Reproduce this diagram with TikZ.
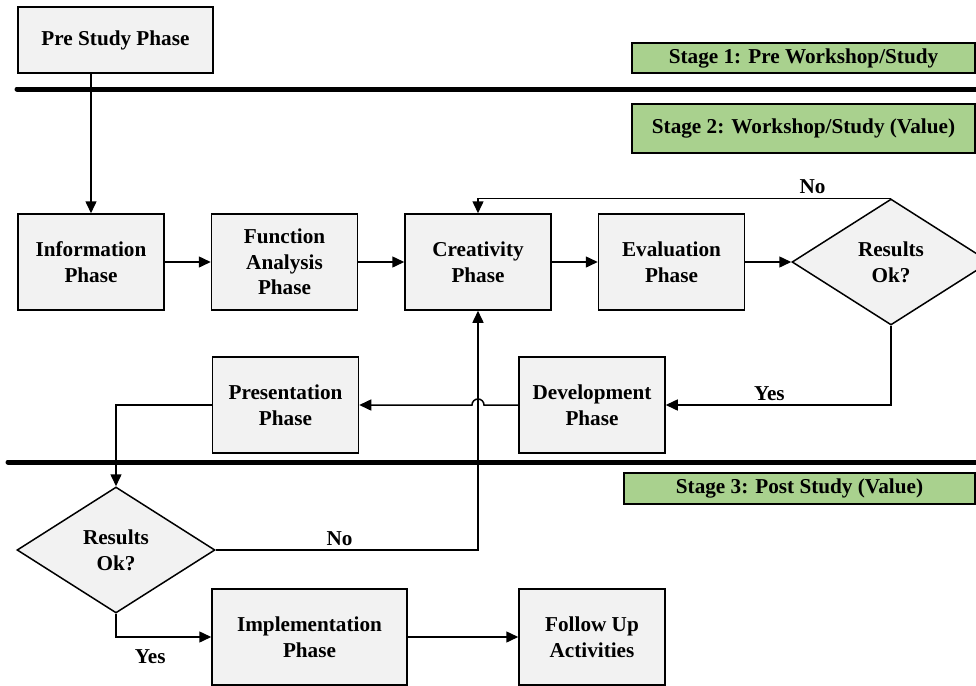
\documentclass[tikz,border=0pt]{standalone}
\usepackage{fontspec}
\setmainfont{Liberation Serif}
\usepackage{xcolor}
\usepackage{tikz}
\usetikzlibrary{positioning,arrows.meta,shapes.geometric,calc}
\definecolor{boxgray}{RGB}{242,242,242}
\definecolor{stagegreen}{RGB}{169,209,142}
\tikzset{
  box/.style={draw, line width=0.75pt, fill=boxgray, minimum height=48pt,
              minimum width=73pt, inner sep=1pt, align=center,
              font=\fontsize{10.6}{12.8}\selectfont\bfseries},
  widebox/.style={box, minimum width=97.5pt},
  stagebox/.style={box, fill=stagegreen, minimum width=171.5pt, minimum height=15pt},
  decision/.style={box, diamond, minimum width=99pt, minimum height=63pt, inner sep=0pt},
  arrow/.style={-{Triangle[length=6pt,width=5.5pt]}, line width=0.75pt},
  lbl/.style={font=\fontsize{10.6}{12.8}\selectfont\bfseries, inner sep=2pt},
  sep/.style={line width=2.5pt, line cap=round},
}
\begin{document}
\begin{tikzpicture}[x=0.5pt, y=-0.5pt, node distance=23pt]
  \useasboundingbox (0,0) rectangle (976,686);
  \clip (0,0) rectangle (976,686);

  \draw[sep] (17,89) -- (990,89);
  \draw[sep] (8,462) -- (990,462);

  \node[widebox, minimum height=33pt] (pre) at (115.5,40) {Pre Study Phase};
  \node[stagebox]                     (st1) at (803.5,58) {Stage 1: Pre Workshop/Study};
  \node[stagebox, minimum height=24.5pt] (st2) at (803.5,128.5) {Stage 2: Workshop/Study (Value)};
  \node[stagebox, minimum width=175.5pt, minimum height=15.5pt] (st3) at (799.5,488.5) {Stage 3: Post Study (Value)};

  \node[box]                    (info)   at (91,262) {Information\\Phase};
  \node[box, right=of info]     (func)   {Function\\Analysis\\Phase};
  \node[box, right=of func]     (creat)  {Creativity\\Phase};
  \node[box, right=of creat]    (eval)   {Evaluation\\Phase};
  \node[decision, right=23pt of eval] (ok1) {Results\\Ok?};

  \node[box]                    (pres)   at (285.5,405) {Presentation\\Phase};
  \node[box]                    (dev)    at (592,405) {Development\\Phase};
  \node[decision]               (ok2)    at (116,550) {Results\\Ok?};
  \node[widebox]                (impl)   at (309.5,637) {Implementation\\Phase};
  \node[box]                    (follow) at (592,637) {Follow Up\\Activities};

  \coordinate (hop) at (creat |- dev);

  \draw[arrow] (pre.south -| info.north) -- (info.north);
  \draw[arrow] (info) -- (func);
  \draw[arrow] (func) -- (creat);
  \draw[arrow] (creat) -- (eval);
  \draw[arrow] (eval) -- (ok1);
  \draw[arrow] (ok1.north) -- node[lbl, pos=0.19, above]{No} (ok1.north -| creat.north) -- (creat.north);
  \draw[arrow] (ok1.south) |- node[lbl, pos=0.77, above]{Yes} (dev.east);
  \draw[arrow] (dev.west) -- ([xshift=3pt]hop) arc[start angle=0, end angle=180, radius=3pt] -- (pres.east);
  \draw[arrow] (pres.west) -| (ok2.north);
  \draw[arrow] (ok2.east) -| node[lbl, pos=0.236, above]{No} (creat.south);
  \draw[arrow] (ok2.south) |- node[lbl, pos=0.68, below=4pt]{Yes} (impl.west);
  \draw[arrow] (impl) -- (follow);
\end{tikzpicture}
\end{document}
